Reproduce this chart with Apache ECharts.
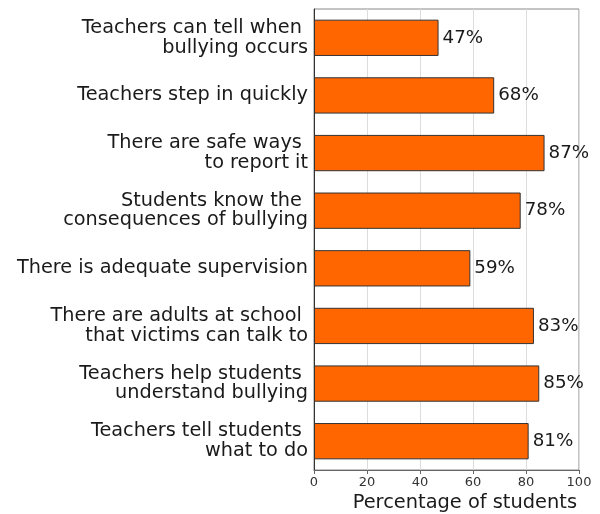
<!DOCTYPE html>
<html>
<head>
<meta charset="utf-8">
<script src="https://cdn.jsdelivr.net/npm/echarts@6/dist/echarts.min.js"></script>
<style>html,body{margin:0;padding:0;background:#fff;}#c{width:600px;height:514px;}</style>
</head>
<body>
<div id="c"></div>
<script>
const categories = [
  "Teachers can tell when \nbullying occurs",
  "Teachers step in quickly",
  "There are safe ways \nto report it",
  "Students know the \nconsequences of bullying",
  "There is adequate supervision",
  "There are adults at school \nthat victims can talk to",
  "Teachers help students \nunderstand bullying",
  "Teachers tell students \nwhat to do"
];
const values = [47, 68, 87, 78, 59, 83, 85, 81];
const xTicks = [0, 20, 40, 60, 80, 100];
const axisTitle = "Percentage of students";

const FONT = "DejaVu Sans";
const chart = echarts.init(document.getElementById('c'), null, {renderer: 'canvas'});
chart.setOption({
  animation: false,
  backgroundColor: '#fff',
  title: {
    text: axisTitle,
    right: 23,
    top: 493,
    padding: 0,
    textStyle: {fontFamily: FONT, fontSize: 19.4, fontWeight: 'normal', color: '#1a1a1a'}
  },
  grid: {
    left: 314, right: 21, top: 9, bottom: 44,
    show: true, borderColor: '#888', borderWidth: 1, backgroundColor: 'transparent'
  },
  xAxis: {
    type: 'value',
    min: xTicks[0], max: xTicks[xTicks.length - 1], interval: xTicks[1] - xTicks[0],
    axisLine: {show: true, lineStyle: {color: '#666', width: 1}},
    axisTick: {show: true, length: 4, lineStyle: {color: '#666'}},
    axisLabel: {fontFamily: FONT, fontSize: 13, color: '#333', margin: 6},
    splitLine: {show: true, lineStyle: {color: '#ddd', width: 1}}
  },
  yAxis: {
    type: 'category',
    data: categories,
    inverse: true,
    axisLine: {show: true, lineStyle: {color: '#333', width: 1}},
    axisTick: {show: false},
    axisLabel: {fontFamily: FONT, fontSize: 19.3, color: '#1a1a1a', margin: 6, lineHeight: 19.5, align: 'right'},
    splitLine: {show: false}
  },
  series: [{
    type: 'bar',
    data: values,
    barCategoryGap: '37%',
    itemStyle: {color: '#FF6600', borderColor: '#333', borderWidth: 1},
    label: {
      show: true, position: 'right', distance: 4,
      formatter: p => p.value + '%',
      fontFamily: FONT, fontSize: 18.3, color: '#1a1a1a'
    }
  }]
});
</script>
</body>
</html>
